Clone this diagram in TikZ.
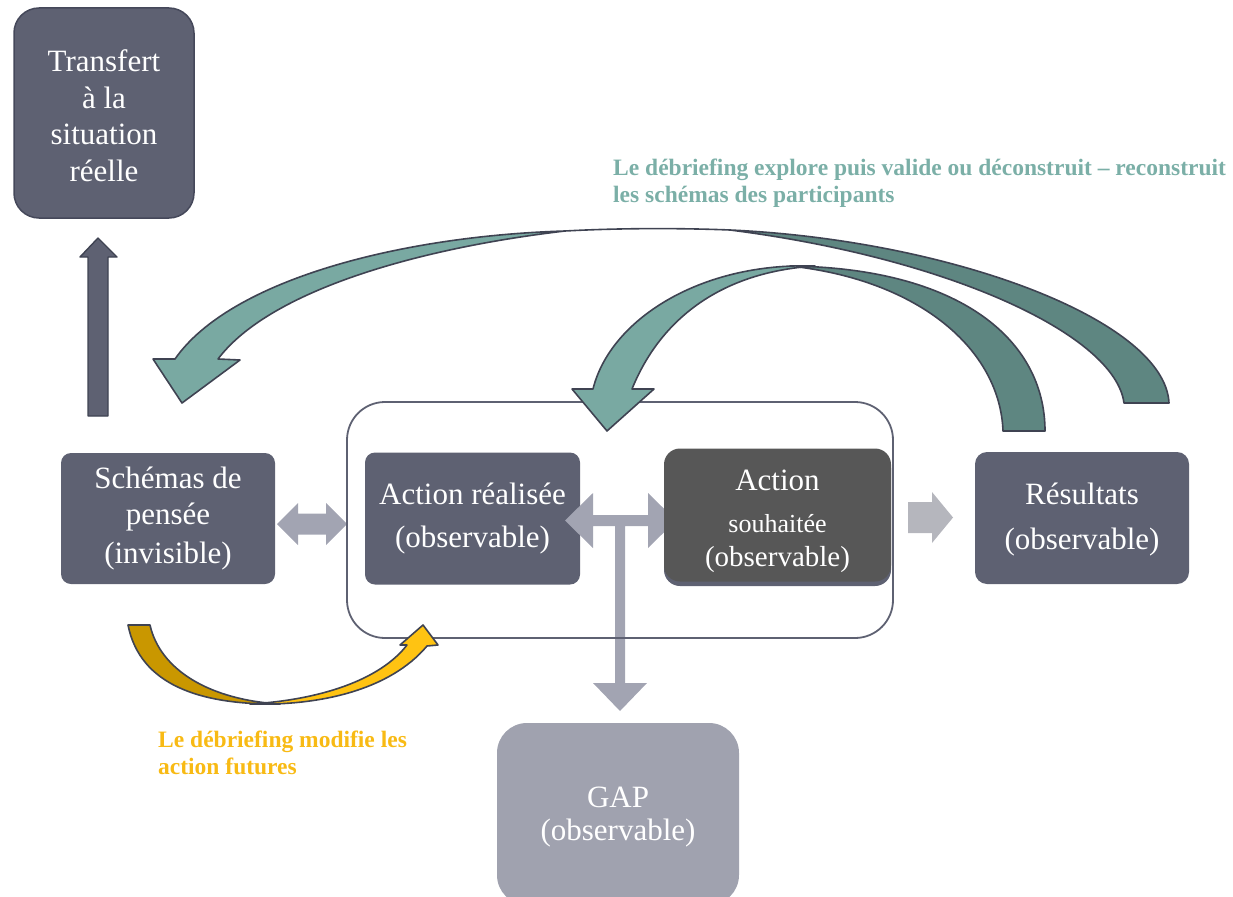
\documentclass[tikz,border=0pt]{standalone}
\usepackage{fontspec}
\setmainfont{Liberation Serif}
\definecolor{slate}{HTML}{5E6172}
\definecolor{slateline}{HTML}{45485A}
\definecolor{darkbox}{HTML}{575757}
\definecolor{gapbox}{HTML}{A0A2AF}
\definecolor{grayarrow}{HTML}{A2A4B2}
\definecolor{palearrow}{HTML}{B5B6BD}
\definecolor{teallight}{HTML}{79A9A2}
\definecolor{tealdark}{HTML}{5E8681}
\definecolor{golddark}{HTML}{C99700}
\definecolor{goldbright}{HTML}{FFC312}
\definecolor{outline}{HTML}{3F4352}
\definecolor{tealtext}{HTML}{7BAFA7}
\definecolor{goldtext}{HTML}{F8BA14}
\begin{document}
\begin{tikzpicture}[x=1pt,y=-1pt,
  stepbox/.style={fill=slate, text=white, align=center, inner sep=0pt,
    font=\fontsize{31}{36}\selectfont, rounded corners=10pt},
  boxtext/.style={text=white, align=center, inner sep=0pt},
  blockarrow/.style={draw=outline, line width=1.6pt, line join=round},
  note/.style={align=left, anchor=west, inner sep=0pt,
    font=\bfseries\fontsize{23.5}{27}\selectfont}]
\useasboundingbox (0,0) rectangle (1233,896);

% ---------- boxes ----------
\node[stepbox, draw=slateline, line width=1.5pt, rounded corners=25pt,
      minimum width=180pt, minimum height=210pt] (transfert) at (104,113)
      {};
\node[boxtext, font=\fontsize{31}{36.5}\selectfont] (transferttext) at (104,115.5)
      {Transfert\\à la\\situation\\réelle};
\node[stepbox, minimum width=214pt, minimum height=131pt] (schemas) at (168,518.5)
      {Schémas de\\pensée\\[3pt](invisible)};
\node[stepbox, minimum width=215pt, minimum height=132pt] (realisee) at (472.5,518.5)
      {Action réalisée\\[7pt](observable)};
\node[stepbox, minimum width=214pt, minimum height=132pt, rounded corners=12pt] (resultats) at (1082,518)
      {};
\node[boxtext, font=\fontsize{31}{36}\selectfont] (resultatstext) at (1082,520)
      {Résultats\\[9pt](observable)};
\node[stepbox, fill=gapbox, minimum width=242pt, minimum height=182pt, rounded corners=30pt] (gap) at (618,814)
      {};
\node[boxtext, font=\fontsize{31}{36}\selectfont] (gaptext) at (618,817)
      {GAP\\[-3pt](observable)};

% ---------- grey connectors ----------
% double arrow between the thinking schemes and the actions frame
\fill[grayarrow] (277,524) -- (298,503) -- (298,513.5) -- (326,513.5) -- (326,503)
  -- (347,524) -- (326,545) -- (326,534.5) -- (298,534.5) -- (298,545) -- cycle;
% three-way arrow: performed action / desired action / gap
\fill[grayarrow] (565,520.5) -- (593,493) -- (593,515) -- (648,515) -- (648,493)
  -- (676,520.5) -- (648,548) -- (648,526) -- (625,526) -- (625,683) -- (647,683)
  -- (620,711) -- (593,683) -- (615,683) -- (615,526) -- (593,526) -- (593,548) -- cycle;
% arrow towards the results
\fill[palearrow] (908,502) -- (932,502) -- (932,492) -- (953,517.5) -- (932,543)
  -- (932,533) -- (908,533) -- cycle;

% desired action box (with its offset shadow)
\fill[slate, rounded corners=16pt] (664,452) rectangle (891,586);
\node[stepbox, fill=darkbox, minimum width=227pt, minimum height=133pt, rounded corners=16pt] (souhaitee) at (777.5,515)
      {};
\node[boxtext, font=\fontsize{29}{33}\selectfont] (souhaiteetext) at (777.5,521)
      {{\fontsize{31}{36}\selectfont Action}\\[9pt]{\fontsize{26}{30}\selectfont souhaitée}\\[1pt](observable)};

% frame around the two actions
\node[draw=slate, line width=1.8pt, rounded corners=38pt, minimum width=546pt,
      minimum height=236pt, inner sep=0pt] (frame) at (620,520) {};

% upward arrow to the transfer box
\draw[blockarrow, fill=slate, line width=1.4pt] (88,416) -- (88,257) -- (80,257) -- (98,238)
  -- (117,257) -- (108,257) -- (108,416) -- cycle;

% ---------- teal curved arrows ----------
% outer arrow: back side
\draw[blockarrow, fill=tealdark] (730,230) .. controls (950,240) and (1165,320) .. (1169,403)
  -- (1124,403) .. controls (1115,335) and (950,258) .. (730,230) -- cycle;
\draw[blockarrow] (565,231) .. controls (620,228) and (680,228) .. (730,230);
% outer arrow: front side and head
\draw[blockarrow, fill=teallight] (565,231) .. controls (400,236) and (230,280) .. (175,359)
  -- (153,359) -- (182,403) -- (240,360) -- (218,359)
  .. controls (270,290) and (420,248) .. (565,231) -- cycle;
% inner arrow: back side
\draw[blockarrow, fill=tealdark] (790,266) .. controls (960,268) and (1045,340) .. (1045,431)
  -- (1003,431) .. controls (1000,350) and (920,280) .. (790,266) -- cycle;
% inner arrow: front side and head
\draw[blockarrow, fill=teallight] (815,266) .. controls (700,262) and (610,320) .. (593,389)
  -- (572,389) -- (607,431) -- (654,389) -- (632,389)
  .. controls (660,320) and (720,272) .. (815,266) -- cycle;

% ---------- golden curved arrow ----------
\draw[blockarrow, fill=golddark] (128,625) -- (150,625) .. controls (160,670) and (210,700) .. (280,704)
  .. controls (200,705) and (140,685) .. (128,625) -- cycle;
\draw[blockarrow, fill=goldbright] (250,704) .. controls (320,706) and (390,690) .. (427,646)
  -- (438,645) -- (423,625) -- (400,645) -- (407,645)
  .. controls (380,680) and (320,700) .. (250,704) -- cycle;

% ---------- captions ----------
\node[note, text=tealtext] (debriefA) at (613,183.5)
  {Le débriefing explore puis valide ou déconstruit – reconstruit\\les schémas des participants};
\node[note, text=goldtext] (debriefB) at (158,753)
  {Le débriefing modifie les\\action futures};
\end{tikzpicture}
\end{document}
